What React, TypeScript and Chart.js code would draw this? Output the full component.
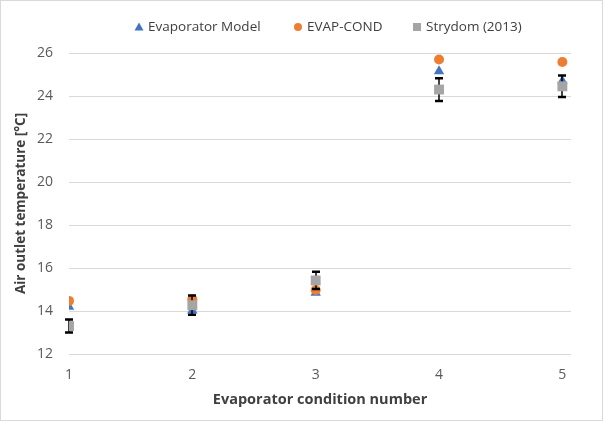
import React, { useEffect, useRef } from "react";
import { Chart, registerables } from "chart.js";

Chart.register(...registerables);

// Evaporator condition numbers on the x axis
const conditions = [1, 2, 3, 4, 5];
// Air outlet temperature [°C] per condition
const evaporatorModel = [14.2, 14.02, 14.85, 25.15, 24.7];
const evapCond = [14.47, 14.55, 14.98, 25.7, 25.58];
const strydom = [13.3, 14.27, 15.42, 24.3, 24.45];
// Symmetric uncertainty of the Strydom (2013) measurements
const strydomError = [0.3, 0.45, 0.4, 0.53, 0.5];

const seriesNames = ["Evaporator Model", "EVAP-COND", "Strydom (2013)"];
const seriesColors = ["#4472C4", "#ED7D31", "#A5A5A5"];

const FONT = "'Open Sans', 'Liberation Sans', sans-serif";

const frame = {
  id: "frame",
  beforeDraw(chart: any) {
    const { ctx, width, height } = chart;
    ctx.save();
    ctx.fillStyle = "#ffffff";
    ctx.fillRect(0, 0, width, height);
    ctx.strokeStyle = "#d9d9d9";
    ctx.lineWidth = 1;
    ctx.strokeRect(0.5, 0.5, width - 1, height - 1);
    ctx.restore();
  },
};

// Black error bars with caps, drawn just before the Strydom squares
const errorBars = {
  id: "errorBars",
  beforeDatasetDraw(chart: any, args: any) {
    if (args.index !== 2) return;
    const { ctx } = chart;
    const xs = chart.scales.x;
    const ys = chart.scales.y;
    ctx.save();
    ctx.strokeStyle = "#000000";
    strydom.forEach((v, i) => {
      const x = Math.round(xs.getPixelForValue(conditions[i]));
      const yTop = ys.getPixelForValue(v + strydomError[i]);
      const yBot = ys.getPixelForValue(v - strydomError[i]);
      ctx.lineWidth = 1.5;
      ctx.beginPath();
      ctx.moveTo(x, yTop);
      ctx.lineTo(x, yBot);
      ctx.stroke();
      ctx.lineWidth = 2.5;
      ctx.beginPath();
      ctx.moveTo(x - 4, yTop);
      ctx.lineTo(x + 4, yTop);
      ctx.moveTo(x - 4, yBot);
      ctx.lineTo(x + 4, yBot);
      ctx.stroke();
    });
    ctx.restore();
  },
};

// Legend row across the top
const legendCentres = [139, 298, 417];
const topLegend = {
  id: "topLegend",
  afterDraw(chart: any) {
    const { ctx } = chart;
    const y = 27;
    ctx.save();
    ctx.font = `13.5px ${FONT}`;
    ctx.textBaseline = "middle";
    ctx.textAlign = "left";
    seriesNames.forEach((name, i) => {
      const cx = legendCentres[i];
      ctx.fillStyle = seriesColors[i];
      ctx.beginPath();
      if (i === 0) {
        ctx.moveTo(cx, y - 4.5);
        ctx.lineTo(cx + 4.5, y + 3.5);
        ctx.lineTo(cx - 4.5, y + 3.5);
        ctx.closePath();
      } else if (i === 1) {
        ctx.arc(cx, y, 4, 0, Math.PI * 2);
      } else {
        ctx.rect(cx - 4, y - 4, 8, 8);
      }
      ctx.fill();
      ctx.fillStyle = "#404040";
      ctx.fillText(name, cx + 9, y + 0.5);
    });
    ctx.restore();
  },
};

export default function App() {
  const ref = useRef<HTMLCanvasElement | null>(null);

  useEffect(() => {
    if (!ref.current) return;
    const chart = new Chart(ref.current, {
      type: "scatter",
      data: {
        datasets: [
          {
            label: seriesNames[0],
            data: conditions.map((c, i) => ({ x: c, y: evaporatorModel[i] })),
            pointStyle: "triangle",
            pointRadius: 6,
            backgroundColor: seriesColors[0],
            borderColor: seriesColors[0],
            borderWidth: 0,
            order: 3,
          },
          {
            label: seriesNames[1],
            data: conditions.map((c, i) => ({ x: c, y: evapCond[i] })),
            pointStyle: "circle",
            pointRadius: 5,
            backgroundColor: seriesColors[1],
            borderColor: seriesColors[1],
            borderWidth: 0,
            order: 2,
          },
          {
            label: seriesNames[2],
            data: conditions.map((c, i) => ({ x: c, y: strydom[i] })),
            pointStyle: "rect",
            pointRadius: 7,
            backgroundColor: seriesColors[2],
            borderColor: seriesColors[2],
            borderWidth: 0,
            order: 1,
          },
        ],
      },
      options: {
        animation: false,
        responsive: false,
        devicePixelRatio: 1,
        layout: { padding: { top: 53, right: 32, bottom: 0, left: 0 } },
        plugins: {
          legend: { display: false },
          tooltip: { enabled: false },
        },
        scales: {
          x: {
            type: "linear",
            min: 1,
            max: 5.07,
            afterBuildTicks: (scale: any) => {
              scale.ticks = conditions.map((v) => ({ value: v }));
            },
            afterFit: (scale: any) => {
              scale.height = 67;
            },
            grid: { display: false, drawTicks: false, tickLength: 0 },
            border: { display: false },
            ticks: {
              color: "#595959",
              font: { family: FONT, size: 14 },
              padding: 13,
              maxRotation: 0,
            },
            title: {
              display: true,
              text: "Evaporator condition number",
              color: "#404040",
              font: { family: FONT, size: 14.5, weight: "bold" },
              padding: { top: 0, bottom: 12 },
            },
          },
          y: {
            min: 12,
            max: 26,
            afterFit: (scale: any) => {
              scale.width = 69;
            },
            grid: { color: "#d9d9d9", lineWidth: 1, drawTicks: false, tickLength: 0 },
            border: { display: false },
            ticks: {
              stepSize: 2,
              color: "#595959",
              font: { family: FONT, size: 14 },
              padding: 16,
            },
            title: {
              display: true,
              text: "Air outlet temperature [°C]",
              color: "#404040",
              font: { family: FONT, size: 13.5, weight: "bold" },
              padding: { top: 13, bottom: 0 },
            },
          },
        },
      },
      plugins: [frame, errorBars, topLegend],
    });
    return () => chart.destroy();
  }, []);

  return (
    <div style={{ position: "fixed", left: 0, top: 0, width: 603, height: 421 }}>
      <canvas ref={ref} width={603} height={421} style={{ display: "block" }} />
    </div>
  );
}
